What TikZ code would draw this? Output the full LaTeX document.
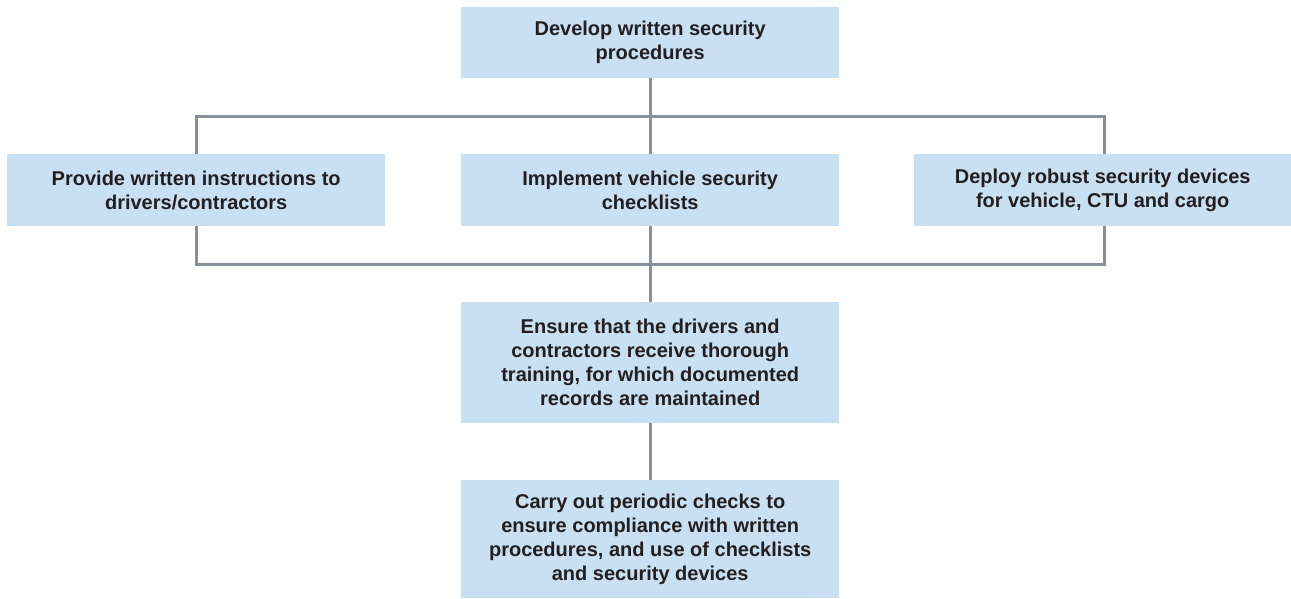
\documentclass[tikz,border=0pt]{standalone}
\usepackage{fontspec}
\setmainfont{Liberation Sans}
\usetikzlibrary{backgrounds}
\definecolor{boxfill}{HTML}{C9DFF2}
\definecolor{linegray}{HTML}{8A9099}
\definecolor{txt}{HTML}{231F20}
\begin{document}
\begin{tikzpicture}[x=1pt,y=-1pt,
  box/.style={fill=boxfill,draw=none,inner sep=0pt,text=txt,align=center,
    font=\fontsize{20}{24}\selectfont\bfseries},
  conn/.style={draw=linegray,line width=3pt}]
\useasboundingbox (0,0) rectangle (1291,598);
\node[box,minimum width=378pt,minimum height=71pt,anchor=north west] (dev) at (461,7) {Develop written security\\procedures};
\node[box,minimum width=378pt,minimum height=72pt,anchor=north west] (prov) at (7,154) {Provide written instructions to\\drivers/contractors};
\node[box,minimum width=378pt,minimum height=72pt,anchor=north west] (impl) at (461,154) {Implement vehicle security\\checklists};
\node[box,minimum width=377pt,minimum height=72pt,anchor=north west] (depl) at (914,154) {Deploy robust security devices\\for vehicle, CTU and cargo};
\node[box,minimum width=378pt,minimum height=121pt,anchor=north west] (ens) at (461,302) {Ensure that the drivers and\\contractors receive thorough\\training, for which documented\\records are maintained};
\node[box,minimum width=378pt,minimum height=118pt,anchor=north west] (carry) at (461,480) {Carry out periodic checks to\\ensure compliance with written\\procedures, and use of checklists\\and security devices};
\coordinate (tl) at (196,116);
\coordinate (tr) at (1104,116);
\coordinate (bl) at (196,264);
\coordinate (br) at (1104,264);
\begin{scope}[on background layer]
\draw[conn] (dev.south) -- (ens.north);
\draw[conn] (tl) -- (tr) -- (br) -- (bl) -- cycle;
\draw[conn] (ens.south) -- (carry.north);
\end{scope}
\end{tikzpicture}
\end{document}
